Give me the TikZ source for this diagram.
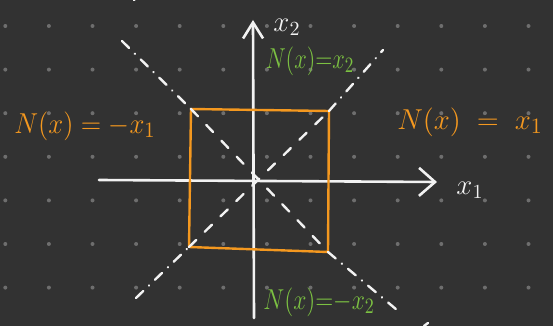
\documentclass[tikz,border=0pt]{standalone}
\usetikzlibrary{arrows.meta, positioning}
\definecolor{board}{HTML}{323232}
\definecolor{griddot}{HTML}{6E6E6E}
\definecolor{chalk}{HTML}{F2F2F2}
\definecolor{penorange}{HTML}{F4981F}
\definecolor{pengreen}{HTML}{7CC142}
\tikzset{
    sketch/.style={x=0.5pt, y=-0.5pt, line cap=round, line join=round},
    axis/.style={draw=chalk, line width=1.3pt},
    unitbox/.style={draw=penorange, line width=1.2pt},
    % diagonals: plain dashes inside the box, dash-dot outside
    inner/.style={draw=chalk, line width=1.2pt, dash pattern=on 5pt off 6pt},
    outer/.style={draw=chalk, line width=1.2pt, dash pattern=on 5pt off 4pt on 0.1pt off 4pt},
    lab/.style={font=\fontsize{15}{18}\selectfont, inner sep=1pt},
    axlab/.style={font=\fontsize{14}{16}\selectfont, text=chalk, inner sep=1pt},
}
\newcommand{\narrow}[2]{\scalebox{#1}[1]{#2}}
\begin{document}
\begin{tikzpicture}[sketch]
    \fill[board] (0,0) rectangle (553,326);
    \useasboundingbox (0,0) rectangle (553,326);

    % dotted paper
    \foreach \i in {0,...,12}
        \foreach \j in {0,...,6}
            \fill[griddot] (5.3+43.6*\i, 26+43.6*\j) circle (1pt);

    % axes
    \coordinate (xmin) at (99,180);
    \coordinate (xmax) at (437,182);
    \coordinate (ymin) at (254,318);
    \coordinate (ymax) at (253,20);
    \draw[axis, -{Straight Barb[length=8pt, width=14pt]}] (xmin) -- (xmax);
    \draw[axis, -{Straight Barb[length=8pt, width=10pt]}] (ymin) -- (ymax);
    \node[axlab] (x1) at (470,190) {$x_1$};
    \node[axlab] (x2) at (287,27) {$x_2$};

    % box
    \coordinate (tl) at (191,109);
    \coordinate (tr) at (329,111);
    \coordinate (br) at (328,252);
    \coordinate (bl) at (189,247);
    \draw[unitbox] (tl) -- (tr) -- (br) -- (bl) -- cycle;

    % diagonals
    \coordinate (nw) at (122,41);
    \coordinate (se) at (397,310);
    \coordinate (sw) at (136,298);
    \coordinate (ne) at (383,50);
    \draw[outer] (nw) -- (tl);
    \draw[inner] (tl) -- (br);
    \draw[outer] (br) -- (se);
    \draw[outer] (sw) -- (bl);
    \draw[inner] (bl) -- (tr);
    \draw[outer] (tr) -- (ne);
    \draw[chalk, line width=1.2pt] (134,0) arc (200:240:6);
    \draw[chalk, line width=1.2pt] (424,326) -- (428,323);

    % labels
    \node[lab, text=penorange] (left)  at (85,126)  {\narrow{0.93}{$N(x) = -x_1$}};
    \node[lab, text=penorange] (right) at (470,122) {$N(x) \;=\; x_1$};
    \node[lab, text=pengreen]  (top)   at (310,61)  {\narrow{0.78}{$N(x){=}x_2$}};
    \node[lab, text=pengreen]  (bot)   at (319,302) {\narrow{0.82}{$N(x){=}{-}x_2$}};
\end{tikzpicture}
\end{document}
